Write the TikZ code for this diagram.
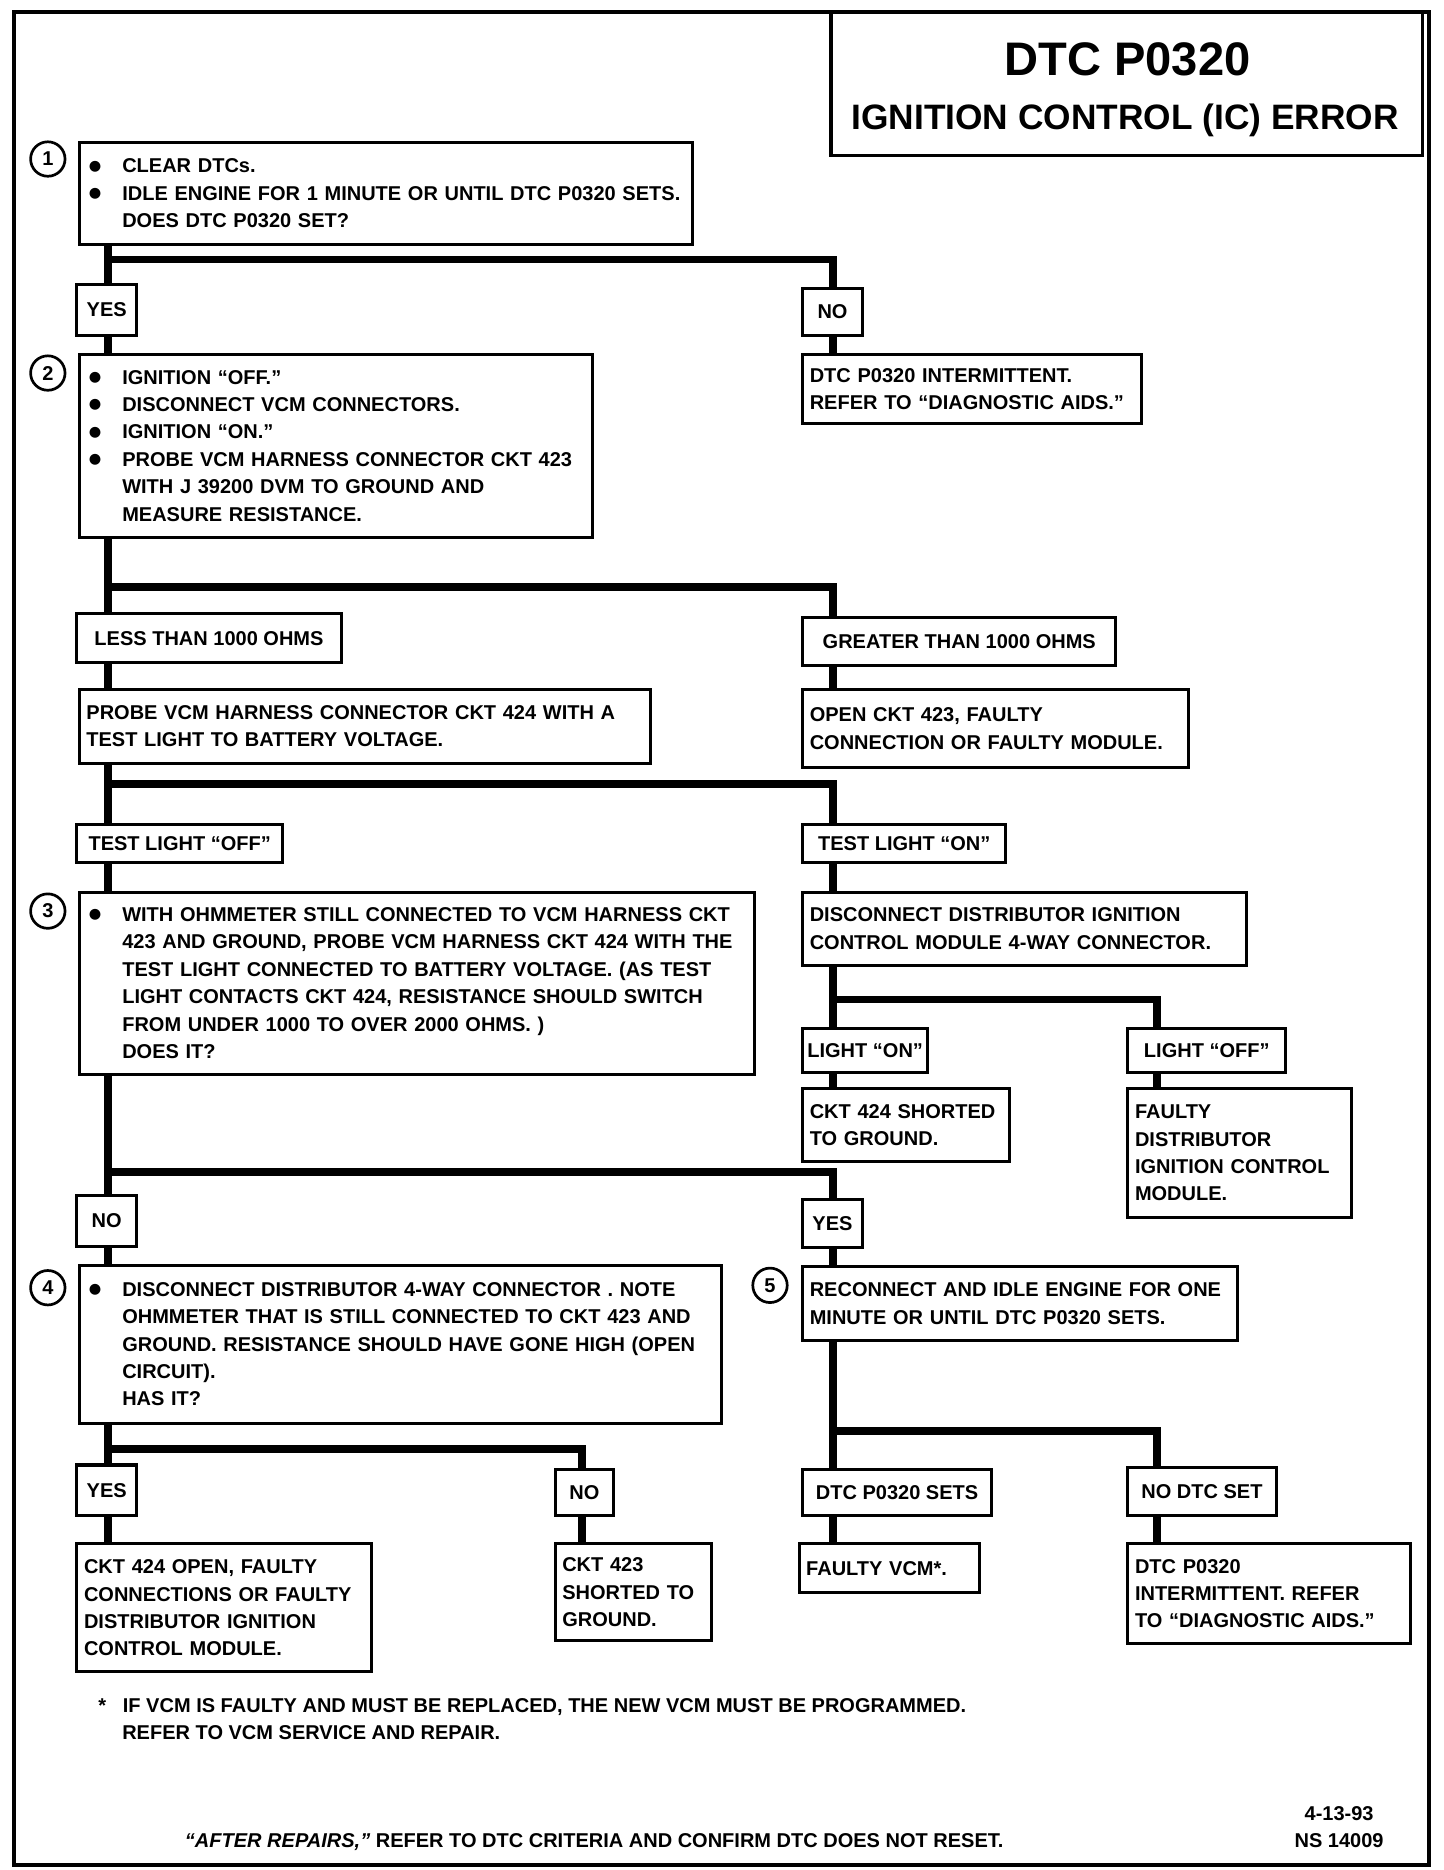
\documentclass[tikz,border=0pt]{standalone}
\usepackage{fontspec}
\setmainfont{Liberation Sans}
\newfontfamily\titlefont{Liberation Sans}
\newfontfamily\symfont{DejaVu Sans}
\newcommand{\bodyfont}{\fontsize{11.9pt}{16.3pt}\selectfont\bfseries}
\newcommand{\bpt}{\makebox[0.75cm][l]{\hspace{0.05cm}\raisebox{0.13em}{\symfont\fontsize{8.5pt}{10pt}\selectfont ●}}}
\newcommand{\hng}{\hspace*{0.75cm}}
\begin{document}
\begin{tikzpicture}[x=0.025cm, y=0.025cm,
    every node/.style={font=\bodyfont},
    box/.style={draw, line width=1.8pt, anchor=north west, align=left, inner xsep=0.15cm, inner ysep=0pt},
    lbl/.style={draw, line width=1.8pt, anchor=north west, align=center, inner sep=0pt},
    num/.style={circle, draw, line width=1.6pt, minimum size=0.72cm, inner sep=0pt},
    trunk/.style={line width=4.8pt},
    bar/.style={line width=4.6pt, line cap=rect}]
    \useasboundingbox (0,0) rectangle (1207,-1564);
    \fill[white] (0,0) rectangle (1207,-1564);
    \draw[line width=2.2pt] (12,-10) rectangle (1195,-1560);

    \draw[line width=1.8pt] (695,-10) rectangle (1190,-130);
    \node[font=\titlefont\fontsize{28pt}{30pt}\selectfont\bfseries] (title) at (943,-50) {DTC P0320};
    \node[font=\titlefont\fontsize{21pt}{24pt}\selectfont\bfseries] (subtitle) at (941,-101) {IGNITION CONTROL (IC) ERROR};

    \node[num] (n1) at (40,-133) {1};
    \node[num] (n2) at (40,-312) {2};
    \node[num] (n3) at (40,-762) {3};
    \node[num] (n4) at (40,-1077) {4};
    \node[num] (n5) at (644,-1075) {5};

    \node[box, text width=12.525cm, minimum height=2.125cm] (s1) at (65,-118)
        {\bpt CLEAR DTCs.\\
         \bpt IDLE ENGINE FOR 1 MINUTE OR UNTIL DTC P0320 SETS.\\
         \hng DOES DTC P0320 SET?};
    \node[lbl, minimum width=1.25cm, minimum height=1.05cm] (yes1) at (63,-237) {YES};
    \node[lbl, minimum width=1.25cm, minimum height=0.975cm] (no1) at (670,-240) {NO};
    \node[box, text width=10.425cm, minimum height=3.825cm] (s2) at (65,-295)
        {\bpt IGNITION “OFF.”\\
         \bpt DISCONNECT VCM CONNECTORS.\\
         \bpt IGNITION “ON.”\\
         \bpt PROBE VCM HARNESS CONNECTOR CKT 423\\
         \hng WITH J 39200 DVM TO GROUND AND\\
         \hng MEASURE RESISTANCE.};
    \node[box, text width=6.775cm, minimum height=1.45cm] (r1) at (670,-295)
        {DTC P0320 INTERMITTENT.\\ REFER TO “DIAGNOSTIC AIDS.”};

    \node[lbl, minimum width=5.525cm, minimum height=1.025cm] (less) at (63,-512) {LESS THAN 1000 OHMS};
    \node[lbl, minimum width=6.55cm, minimum height=1cm] (great) at (670,-515) {GREATER THAN 1000 OHMS};
    \node[box, text width=11.65cm, minimum height=1.55cm] (probe) at (65,-575)
        {PROBE VCM HARNESS CONNECTOR CKT 424 WITH A\\ TEST LIGHT TO BATTERY VOLTAGE.};
    \node[box, text width=7.775cm, minimum height=1.65cm] (open) at (670,-575)
        {OPEN CKT 423, FAULTY\\ CONNECTION OR FAULTY MODULE.};

    \node[lbl, minimum width=4.3cm, minimum height=0.8cm] (tloff) at (63,-688) {TEST LIGHT “OFF”};
    \node[lbl, minimum width=4.25cm, minimum height=0.8cm] (tlon) at (670,-688) {TEST LIGHT “ON”};
    \node[box, text width=13.825cm, minimum height=3.8cm] (s3) at (65,-745)
        {\bpt WITH OHMMETER STILL CONNECTED TO VCM HARNESS CKT\\
         \hng 423 AND GROUND, PROBE VCM HARNESS CKT 424 WITH THE\\
         \hng TEST LIGHT CONNECTED TO BATTERY VOLTAGE.  (AS TEST\\
         \hng LIGHT CONTACTS CKT 424, RESISTANCE SHOULD SWITCH\\
         \hng FROM UNDER 1000 TO OVER 2000 OHMS. )\\
         \hng DOES IT?};
    \node[box, text width=8.975cm, minimum height=1.525cm] (disc) at (670,-745)
        {DISCONNECT DISTRIBUTOR IGNITION\\ CONTROL MODULE 4-WAY CONNECTOR.};

    \node[lbl, minimum width=2.55cm, minimum height=0.925cm, inner xsep=0.1cm] (lon) at (670,-859) {LIGHT “ON”};
    \node[lbl, minimum width=3.3cm, minimum height=0.925cm] (loff) at (942,-859) {LIGHT “OFF”};
    \node[box, text width=4.025cm, minimum height=1.525cm] (short424) at (670,-909)
        {CKT 424 SHORTED\\ TO GROUND.};
    \node[box, text width=4.375cm, minimum height=2.7cm] (faultyd) at (942,-909)
        {FAULTY\\ DISTRIBUTOR\\ IGNITION CONTROL\\ MODULE.};

    \node[lbl, minimum width=1.25cm, minimum height=1.05cm] (no3) at (63,-999) {NO};
    \node[lbl, minimum width=1.25cm, minimum height=1cm] (yes3) at (670,-1002) {YES};
    \node[box, text width=13.125cm, minimum height=3.3cm] (s4) at (65,-1057)
        {\bpt DISCONNECT DISTRIBUTOR 4-WAY CONNECTOR .  NOTE\\
         \hng OHMMETER THAT IS STILL CONNECTED TO CKT 423 AND\\
         \hng GROUND.  RESISTANCE SHOULD HAVE GONE HIGH (OPEN\\
         \hng CIRCUIT).\\
         \hng HAS IT?};
    \node[box, text width=8.8cm, minimum height=1.55cm] (s5) at (670,-1058)
        {RECONNECT AND IDLE ENGINE FOR ONE\\ MINUTE OR UNTIL DTC P0320 SETS.};

    \node[lbl, minimum width=1.25cm, minimum height=1.05cm] (yes4) at (63,-1224) {YES};
    \node[lbl, minimum width=1.225cm, minimum height=0.95cm] (no4) at (463,-1228) {NO};
    \node[lbl, minimum width=3.95cm, minimum height=0.95cm] (sets) at (670,-1228) {DTC P0320 SETS};
    \node[lbl, minimum width=3.1cm, minimum height=1cm] (nodtc) at (942,-1226) {NO DTC SET};
    \node[box, text width=5.85cm, minimum height=2.675cm] (open424) at (63,-1290)
        {CKT 424 OPEN, FAULTY\\ CONNECTIONS OR FAULTY\\ DISTRIBUTOR IGNITION\\ CONTROL MODULE.};
    \node[box, text width=2.975cm, minimum height=2.025cm] (short423) at (463,-1290)
        {CKT 423\\ SHORTED TO\\ GROUND.};
    \node[box, text width=3.475cm, minimum height=1.025cm] (fvcm) at (667,-1290) {FAULTY VCM*.};
    \node[box, text width=5.6cm, minimum height=2.075cm] (inter) at (942,-1290)
        {DTC P0320\\ INTERMITTENT.  REFER\\ TO “DIAGNOSTIC AIDS.”};

    \coordinate (j1) at (90,-217);
    \coordinate (k1) at (697,-217);
    \draw[trunk] (s1.south -| j1) -- (yes1.north -| j1);
    \draw[trunk] (yes1.south -| j1) -- (s2.north -| j1);
    \draw[bar] (j1) -- (k1);
    \draw[trunk] (k1) -- (no1.north -| k1);
    \draw[trunk] (no1.south -| k1) -- (r1.north -| k1);

    \coordinate (j2) at (90,-491);
    \coordinate (k2) at (697,-491);
    \draw[trunk] (s2.south -| j2) -- (less.north -| j2);
    \draw[bar] (j2) -- (k2);
    \draw[trunk] (k2) -- (great.north -| k2);
    \draw[trunk] (less.south -| j2) -- (probe.north -| j2);
    \draw[trunk] (great.south -| k2) -- (open.north -| k2);

    \coordinate (j3) at (90,-656);
    \coordinate (k3) at (697,-656);
    \draw[trunk] (probe.south -| j3) -- (tloff.north -| j3);
    \draw[bar] (j3) -- (k3);
    \draw[trunk] (k3) -- (tlon.north -| k3);
    \draw[trunk] (tloff.south -| j3) -- (s3.north -| j3);
    \draw[trunk] (tlon.south -| k3) -- (disc.north -| k3);

    \coordinate (j4) at (697,-836);
    \coordinate (k4) at (968,-836);
    \draw[trunk] (disc.south -| j4) -- (lon.north -| j4);
    \draw[bar] (j4) -- (k4);
    \draw[trunk] (k4) -- (loff.north -| k4);
    \draw[trunk] (lon.south -| j4) -- (short424.north -| j4);
    \draw[trunk] (loff.south -| k4) -- (faultyd.north -| k4);

    \coordinate (j5) at (90,-980);
    \coordinate (k5) at (697,-980);
    \draw[trunk] (s3.south -| j5) -- (no3.north -| j5);
    \draw[bar] (j5) -- (k5);
    \draw[trunk] (k5) -- (yes3.north -| k5);
    \draw[trunk] (no3.south -| j5) -- (s4.north -| j5);
    \draw[trunk] (yes3.south -| k5) -- (s5.north -| k5);

    \coordinate (j6) at (90,-1212);
    \coordinate (k6) at (487,-1212);
    \draw[trunk] (s4.south -| j6) -- (yes4.north -| j6);
    \draw[bar] (j6) -- (k6);
    \draw[trunk] (k6) -- (no4.north -| k6);
    \draw[trunk] (yes4.south -| j6) -- (open424.north -| j6);
    \draw[trunk] (no4.south -| k6) -- (short423.north -| k6);

    \coordinate (j7) at (697,-1197);
    \coordinate (k7) at (968,-1197);
    \draw[trunk] (s5.south -| j7) -- (sets.north -| j7);
    \draw[bar] (j7) -- (k7);
    \draw[trunk] (k7) -- (nodtc.north -| k7);
    \draw[trunk] (sets.south -| j7) -- (fvcm.north -| j7);
    \draw[trunk] (nodtc.south -| k7) -- (inter.north -| k7);

    \node[anchor=north west, align=left, inner sep=0pt] (note) at (82,-1420)
        {*\hspace{0.35cm}IF VCM IS FAULTY AND MUST BE REPLACED, THE NEW VCM MUST BE PROGRAMMED.\\
         \hspace*{0.5cm}REFER TO VCM SERVICE AND REPAIR.};
    \node[align=center] (date) at (1120,-1528) {4-13-93\\ NS 14009};
    \node (after) at (497,-1541) {\textit{“AFTER REPAIRS,”} REFER TO DTC CRITERIA AND CONFIRM DTC DOES NOT RESET.};
\end{tikzpicture}
\end{document}
